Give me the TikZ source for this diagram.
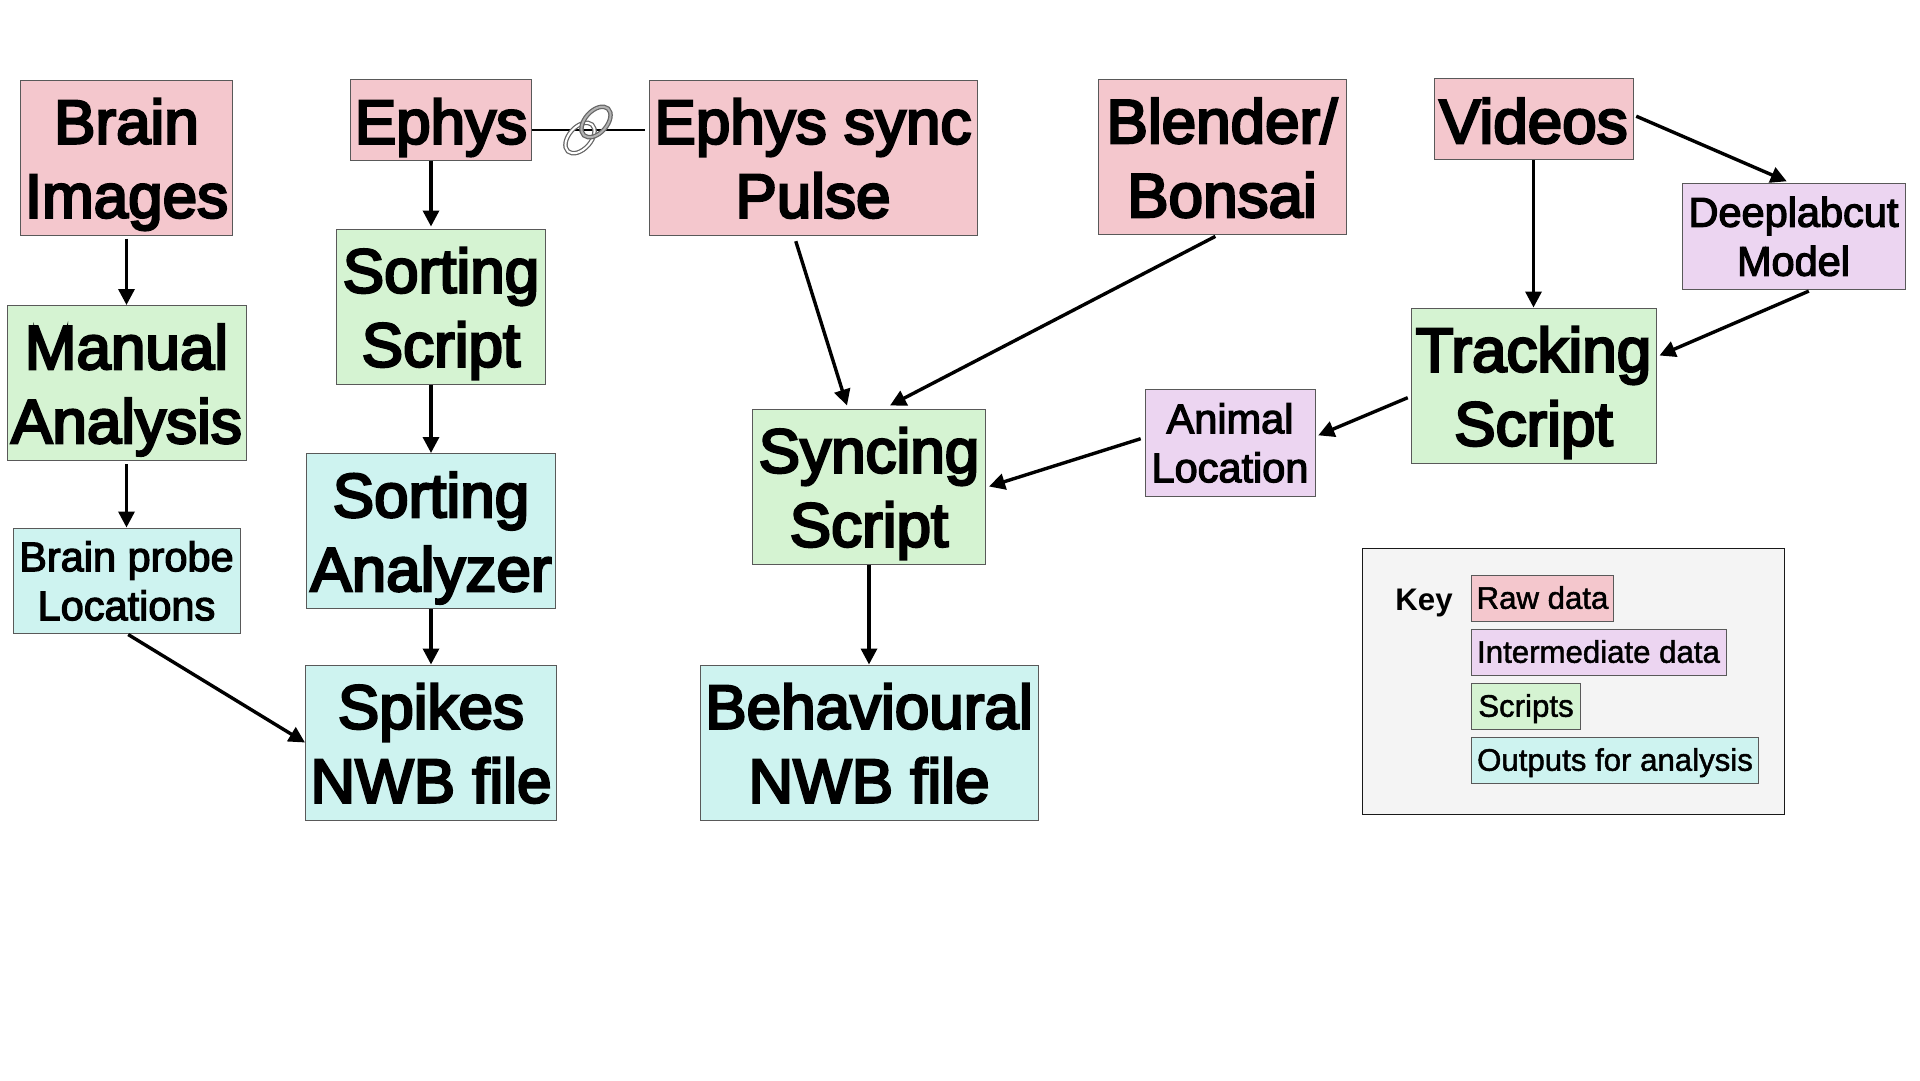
\documentclass[tikz,border=0pt]{standalone}
\usepackage{fontspec}
\setmainfont{Liberation Sans}
\newfontfamily\boxfont{Liberation Sans}[FakeBold=4]
\newfontfamily\midfont{Liberation Sans}[FakeBold=3]
\newfontfamily\keyfont{Liberation Sans}[FakeBold=1.5]
\usetikzlibrary{arrows.meta}
\definecolor{rawcol}{HTML}{F4C7CD}
\definecolor{intercol}{HTML}{ECD5F1}
\definecolor{scriptcol}{HTML}{D5F3D2}
\definecolor{outcol}{HTML}{CEF3F0}
\definecolor{keycol}{HTML}{F4F4F4}
\tikzset{
  box/.style={draw=black!65, line width=1pt, inner sep=0pt, align=center, text=black},
  big/.style={box, font=\boxfont\fontsize{62}{74}\selectfont, text height=127pt, text depth=7pt},
  bigone/.style={big, text height=54pt, text depth=6pt},
  mid/.style={box, font=\midfont\fontsize{41.5}{49}\selectfont, text height=84pt, text depth=4.6pt},
  small/.style={box, font=\keyfont\fontsize{31.2}{37}\selectfont, text height=25pt, text depth=3.5pt},
  link/.style={line width=3.4pt, -{Triangle[length=16pt,width=16pt]}},
}
\begin{document}
\begin{tikzpicture}[x=1pt, y=-1pt]
  \useasboundingbox (0,0) rectangle (1920,1080);
  % raw data
  \node[big, fill=rawcol, minimum width=212, minimum height=155] (brain) at (126.5,157.5) {Brain\\Images};
  \node[bigone, fill=rawcol, minimum width=181, minimum height=81] (ephys) at (441,119.5) {Ephys};
  \node[big, fill=rawcol, minimum width=328, minimum height=155] (pulse) at (813,157.5) {Ephys sync\\Pulse};
  \node[big, fill=rawcol, minimum width=248, minimum height=155] (blender) at (1222,157) {Blender/\\Bonsai};
  \node[bigone, fill=rawcol, minimum width=199, minimum height=81] (videos) at (1533.5,119) {Videos};
  % scripts
  \node[big, fill=scriptcol, minimum width=239, minimum height=155] (manual) at (126.5,383) {Manual\\Analysis};
  \node[big, fill=scriptcol, minimum width=209, minimum height=155] (sorting) at (441,306.5) {Sorting\\Script};
  \node[big, fill=scriptcol, minimum width=233, minimum height=155] (syncing) at (869,486.5) {Syncing\\Script};
  \node[big, fill=scriptcol, minimum width=245, minimum height=155] (tracking) at (1533.5,385.5) {Tracking\\Script};
  % intermediate
  \node[mid, fill=intercol, minimum width=223, minimum height=106] (deeplab) at (1793.5,236) {Deeplabcut\\Model};
  \node[mid, fill=intercol, minimum width=170, minimum height=107] (animal) at (1230,442.5) {Animal\\Location};
  % outputs
  \node[mid, fill=outcol, minimum width=227, minimum height=105] (probe) at (126.5,580.5) {Brain probe\\Locations};
  \node[big, fill=outcol, minimum width=249, minimum height=155] (analyzer) at (431,531) {Sorting\\Analyzer};
  \node[big, fill=outcol, minimum width=251, minimum height=155] (spikes) at (431,742.5) {Spikes\\NWB file};
  \node[big, fill=outcol, minimum width=338, minimum height=155] (behav) at (869,742.5) {Behavioural\\NWB file};
  % key
  \node[draw=black!90, line width=1pt, fill=keycol, minimum width=422, minimum height=266] (key) at (1573,681.5) {};
  \node[font=\fontsize{31.2}{37}\selectfont\bfseries, inner sep=0pt, anchor=base] (keyname) at (1424,610) {Key};
  \node[small, fill=rawcol, minimum width=142, minimum height=46, anchor=west] (keyraw) at (1471,598) {Raw data};
  \node[small, fill=intercol, minimum width=255, minimum height=46, anchor=west] (keyinter) at (1470.5,652) {Intermediate data};
  \node[small, fill=scriptcol, minimum width=109, minimum height=46, anchor=west] (keyscript) at (1471,706) {Scripts};
  \node[small, fill=outcol, minimum width=287, minimum height=46, anchor=west] (keyout) at (1471,760) {Outputs for analysis};
  % connectors
  \draw[link, shorten <=3pt] (brain.south) -- (manual.north);
  \draw[link, shorten <=3pt] (manual.south) -- (probe.north);
  \draw[link, shorten <=2pt] (probe.south) -- (spikes.west);
  \draw[link] (ephys.south -| analyzer.north) -- ([yshift=2pt]sorting.north -| analyzer.north);
  \draw[link] (sorting.south -| analyzer.north) -- (analyzer.north);
  \draw[link] (analyzer.south) -- (spikes.north);
  \draw[line width=1.6pt, shorten >=4pt] ([yshift=-10.5pt]ephys.east) -- ([yshift=-10.5pt]ephys.east -| pulse.west);
  \draw[link, shorten <=6pt] ([xshift=-19pt]pulse.south) -- ([xshift=-22pt, yshift=3pt]syncing.north);
  \draw[link, shorten <=3pt] ([xshift=-4pt]blender.south) -- ([xshift=21pt, yshift=3pt]syncing.north);
  \draw[link] (syncing.south) -- (behav.north);
  \draw[link, shorten <=4pt] ([yshift=5pt]animal.west) -- ([xshift=3pt]syncing.east);
  \draw[link, shorten <=3pt, shorten >=3pt] ([yshift=-11pt]tracking.west) -- ([yshift=6pt]animal.east);
  \draw[link] (videos.south) -- (tracking.north);
  \draw[link, shorten <=3pt, shorten >=3pt] ([yshift=4pt]videos.east) -- ([xshift=-4pt]deeplab.north);
  \draw[link, shorten <=4pt] ([xshift=19pt]deeplab.south) -- ([yshift=30pt, xshift=3pt]tracking.east);
  % chain links
  \foreach \cx/\cy/\shade in {580/138/white, 596/122/black!30} {
    \draw[black!60, line width=4.5pt] (\cx,\cy) ellipse [x radius=18, y radius=11, rotate=48];
    \draw[\shade, line width=2pt] (\cx,\cy) ellipse [x radius=18, y radius=11, rotate=48];
  }
\end{tikzpicture}
\end{document}
